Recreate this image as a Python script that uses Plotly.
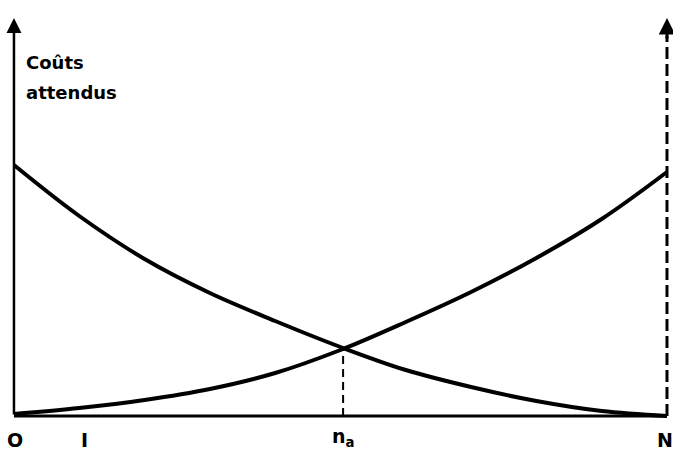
import plotly.graph_objects as go

# Expected costs diagram (arbitrary units)
n_values = [0, 1, 2, 3, 4, 5, 6, 7, 8, 9, 10]
cout_decroissant = [251, 200, 157, 123, 95, 69, 46, 29, 15, 5, 0]
cout_croissant = [2, 8, 16, 27, 43, 66, 94, 124, 158, 197, 244]

n_a = 5.04
y_na = 68
N = 10
y_top = 398

tick_pos = [0.02, 1.08, n_a, 9.97]
tick_text = ["O", "I", "n<sub>a</sub>", "N"]
tick_y = [-24, -24, -21, -24]

font_txt = dict(size=18, color="black", family="DejaVu Sans")

fig = go.Figure()

fig.add_trace(go.Scatter(x=n_values, y=cout_decroissant, mode="lines",
                         line=dict(color="black", width=4, shape="spline"),
                         hoverinfo="skip"))
fig.add_trace(go.Scatter(x=n_values, y=cout_croissant, mode="lines",
                         line=dict(color="black", width=4, shape="spline"),
                         hoverinfo="skip"))

# axes drawn by hand
fig.add_shape(type="line", x0=0, y0=0, x1=N, y1=0, line=dict(color="black", width=3))
fig.add_shape(type="line", x0=n_a, y0=0, x1=n_a, y1=y_na,
              line=dict(color="black", width=2, dash="8px,5px"))
fig.add_shape(type="line", x0=N, y0=0, x1=N, y1=y_top - 18,
              line=dict(color="black", width=3, dash="12px,5px"))

fig.add_annotation(x=0, y=y_top, ax=0, ay=0, axref="x", ayref="y", text="",
                   showarrow=True, arrowhead=2, arrowsize=1.2, arrowwidth=2.5, arrowcolor="black")
fig.add_annotation(x=N, y=y_top, ax=N, ay=y_top - 22, axref="x", ayref="y", text="",
                   showarrow=True, arrowhead=2, arrowsize=1.1, arrowwidth=3, arrowcolor="black")

fig.add_annotation(x=0.15, y=354, xanchor="left", yanchor="middle",
                   text="<b>Coûts</b>", showarrow=False, font=font_txt)
fig.add_annotation(x=0.15, y=324, xanchor="left", yanchor="middle",
                   text="<b>attendus</b>", showarrow=False, font=font_txt)

for xp, yp, t in zip(tick_pos, tick_y, tick_text):
    fig.add_annotation(x=xp, y=yp, yanchor="middle", text="<b>" + t + "</b>", showarrow=False,
                       font=dict(size=19, color="black", family="DejaVu Sans"))

fig.update_layout(
    width=673, height=451,
    margin=dict(l=0, r=0, t=0, b=0),
    paper_bgcolor="white", plot_bgcolor="white",
    showlegend=False,
    xaxis=dict(range=[-0.214, 10.092], visible=False, fixedrange=True),
    yaxis=dict(range=[-35, 416], visible=False, fixedrange=True),
)

# drop the default page margin so the figure fills the window
fig.write_html("out.html", config={"displayModeBar": False},
               post_script="document.body.style.margin='0';document.documentElement.style.overflow='hidden';")
